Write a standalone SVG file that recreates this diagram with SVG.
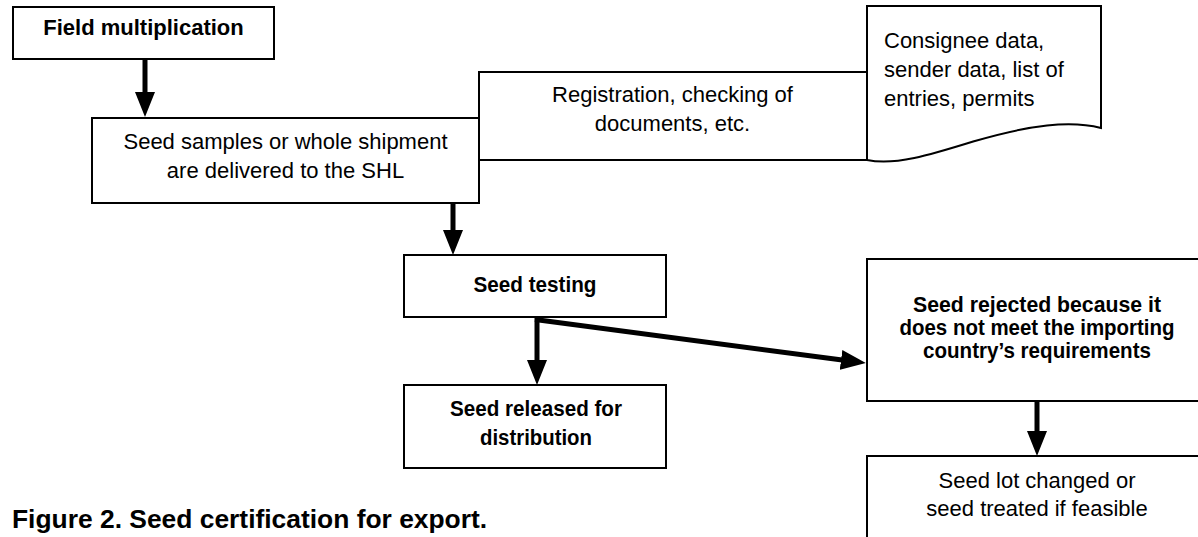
<svg xmlns="http://www.w3.org/2000/svg" width="1198" height="537" viewBox="0 0 1198 537">
  <defs>
    <style>
      .box { fill: #fff; stroke: #000; stroke-width: 2; }
      .txt { font-family: "Liberation Sans", Arial, sans-serif; font-size: 22px; fill: #000; }
      .mid { text-anchor: middle; }
      .bold { font-weight: bold; }
      .flow { stroke: #000; stroke-width: 5; fill: none; }
      .caption { font-family: "Liberation Sans", Arial, sans-serif; font-weight: bold; font-size: 26.4px; fill: #000; }
    </style>
    <marker id="head" markerUnits="userSpaceOnUse" markerWidth="26" markerHeight="22" viewBox="0 0 26 22" refX="5" refY="11" orient="auto">
      <path d="M0,1 L25,11 L0,21 Z" fill="#000"/>
    </marker>
  </defs>

  <rect width="1198" height="537" fill="#fff"/>

  <!-- flow arrows -->
  <g id="connectors">
    <line class="flow" x1="145" y1="59" x2="145" y2="97" marker-end="url(#head)"/>
    <line class="flow" x1="453" y1="203" x2="453" y2="235" marker-end="url(#head)"/>
    <line class="flow" x1="537" y1="317" x2="537" y2="365" marker-end="url(#head)"/>
    <line class="flow" x1="535" y1="319.5" x2="846" y2="360.5" marker-end="url(#head)"/>
    <line class="flow" x1="1037" y1="402" x2="1037" y2="436" marker-end="url(#head)"/>
  </g>

  <g id="field-multiplication">
    <rect class="box" x="13" y="7" width="261" height="52"/>
    <text class="txt mid bold" x="143.5" y="35" font-size="21">Field multiplication</text>
  </g>

  <g id="registration">
    <rect class="box" x="479" y="72" width="388" height="88"/>
    <text class="txt mid" x="672.5" y="102">Registration, checking of</text>
    <text class="txt mid" x="672.5" y="131">documents, etc.</text>
  </g>

  <g id="delivery">
    <rect class="box" x="92" y="118" width="387" height="85"/>
    <text class="txt mid" x="285.5" y="149">Seed samples or whole shipment</text>
    <text class="txt mid" x="285.5" y="178">are delivered to the SHL</text>
  </g>

  <g id="documents">
    <path class="box" d="M867,6 L1101,6 L1101,128 C1070,120 1030,125 975,141 C930,155 895,166 867,160 Z"/>
    <text class="txt" x="884" y="48">Consignee data,</text>
    <text class="txt" x="884" y="77">sender data, list of</text>
    <text class="txt" x="884" y="106">entries, permits</text>
  </g>

  <g id="seed-testing">
    <rect class="box" x="404" y="255" width="262" height="62"/>
    <text class="txt mid bold" x="535" y="292" font-size="24" textLength="123" lengthAdjust="spacingAndGlyphs">Seed testing</text>
  </g>

  <g id="seed-released">
    <rect class="box" x="404" y="385" width="262" height="83"/>
    <text class="txt mid bold" x="536" y="416" textLength="172" lengthAdjust="spacingAndGlyphs">Seed released for</text>
    <text class="txt mid bold" x="536" y="445" textLength="112" lengthAdjust="spacingAndGlyphs">distribution</text>
  </g>

  <g id="seed-rejected">
    <rect class="box" x="867" y="259" width="400" height="142"/>
    <text class="txt mid bold" x="1037" y="312" textLength="248" lengthAdjust="spacingAndGlyphs">Seed rejected because it</text>
    <text class="txt mid bold" x="1037" y="335" textLength="275" lengthAdjust="spacingAndGlyphs">does not meet the importing</text>
    <text class="txt mid bold" x="1037" y="358" textLength="228" lengthAdjust="spacingAndGlyphs">country’s requirements</text>
  </g>

  <g id="seed-lot-changed">
    <rect class="box" x="867" y="456" width="400" height="120"/>
    <text class="txt mid" x="1037" y="488">Seed lot changed or</text>
    <text class="txt mid" x="1037" y="516">seed treated if feasible</text>
  </g>

  <text class="caption" x="12" y="528">Figure 2. Seed certification for export.</text>
</svg>
